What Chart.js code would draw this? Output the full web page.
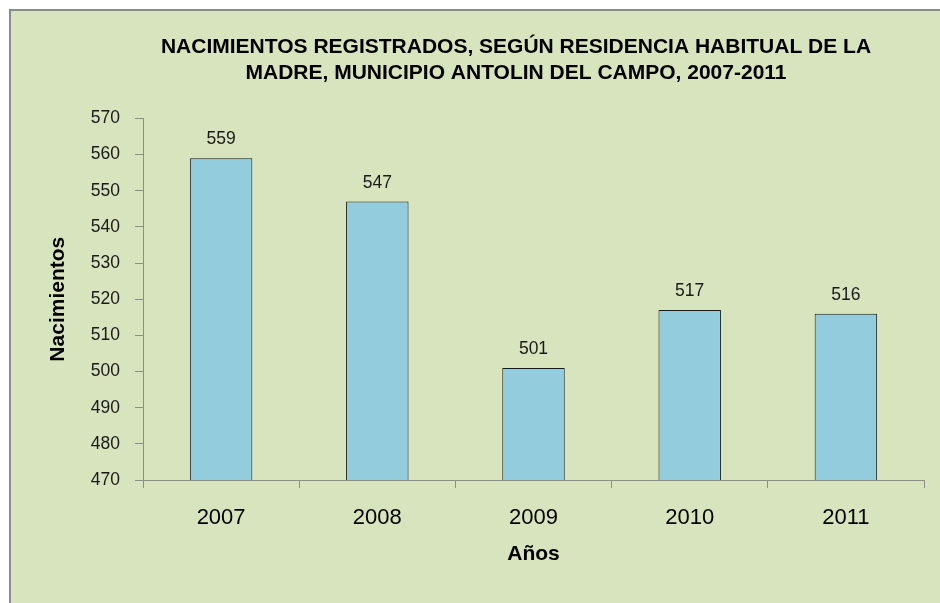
<!DOCTYPE html>
<html><head><meta charset="utf-8">
<script src="https://cdn.jsdelivr.net/npm/chart.js@4.4.1/dist/chart.umd.min.js"></script>
<style>
html,body{margin:0;padding:0;background:#fff;overflow:hidden;width:940px;height:603px;}
#frame{position:absolute;left:9px;top:9px;width:1010px;height:600px;border-left:2px solid #8c8c8c;border-top:2px solid #8c8c8c;background:#D7E4BD;}
canvas{display:block;}
</style></head><body>
<div id="frame"><canvas id="c" width="1010" height="600"></canvas></div>
<script>
const categories = ['2007', '2008', '2009', '2010', '2011'];
const births = [559, 547, 501, 517, 516];
const yTicks = [470, 480, 490, 500, 510, 520, 530, 540, 550, 560, 570];
const titleLines = ['NACIMIENTOS REGISTRADOS, SEGÚN RESIDENCIA HABITUAL DE LA', 'MADRE, MUNICIPIO ANTOLIN DEL CAMPO, 2007-2011'];
const yTitle = 'Nacimientos';
const xTitle = 'Años';

const FAMILY = "'Liberation Sans', Arial, sans-serif";

const valueLabels = {
  id: 'valueLabels',
  afterDatasetsDraw(chart) {
    const ctx = chart.ctx;
    const meta = chart.getDatasetMeta(0);
    ctx.save();
    ctx.font = '17.5px ' + FAMILY;
    ctx.fillStyle = '#1a1a1a';
    ctx.textAlign = 'center';
    ctx.textBaseline = 'alphabetic';
    meta.data.forEach((bar, i) => {
      ctx.fillText(String(births[i]), bar.x, bar.y - 14);
    });
    ctx.restore();
  }
};

new Chart(document.getElementById('c'), {
  type: 'bar',
  data: {
    labels: categories,
    datasets: [{
      data: births,
      backgroundColor: '#93CDDD',
      borderColor: '#1a1a1a',
      borderWidth: 1,
      categoryPercentage: 1,
      barPercentage: 0.4
    }]
  },
  options: {
    responsive: false,
    animation: false,
    layout: { padding: { left: 0, right: 0, top: 0, bottom: 0 } },
    plugins: {
      legend: { display: false },
      tooltip: { enabled: false },
      title: {
        display: true,
        text: titleLines,
        color: '#000',
        font: { family: FAMILY, size: 21, weight: 'bold', lineHeight: 1.2 },
        padding: { top: 24, bottom: 33 }
      }
    },
    scales: {
      x: {
        grid: { display: true, drawOnChartArea: false, drawTicks: true, tickLength: 8, color: '#8c8c8c', offset: true },
        border: { display: true, color: '#8c8c8c', width: 1 },
        ticks: { color: '#000', padding: 17, font: { family: FAMILY, size: 22 } },
        title: { display: true, text: xTitle, color: '#000', font: { family: FAMILY, size: 21, weight: 'bold', lineHeight: 1.2 }, padding: { top: 0, bottom: 44 } },
        afterFit(s) { s.height = 131; }
      },
      y: {
        min: yTicks[0],
        max: yTicks[yTicks.length - 1],
        afterBuildTicks(s) { s.ticks = yTicks.map(v => ({ value: v })); },
        grid: { display: true, drawOnChartArea: false, drawTicks: true, tickLength: 8, color: '#8c8c8c' },
        border: { display: true, color: '#8c8c8c', width: 1 },
        ticks: { color: '#1a1a1a', padding: 15, font: { family: FAMILY, size: 17.5 } },
        title: { display: true, text: yTitle, color: '#000', font: { family: FAMILY, size: 21, weight: 'bold', lineHeight: 1.2 }, padding: { top: 35, bottom: 0 } },
        afterFit(s) { s.width = 132; }
      },
      spacer: {
        type: 'linear',
        position: 'right',
        display: true,
        grid: { display: false, drawTicks: false },
        border: { display: false },
        ticks: { display: false },
        afterFit(s) { s.width = 97; }
      }
    }
  },
  plugins: [valueLabels]
});
</script>
</body></html>
